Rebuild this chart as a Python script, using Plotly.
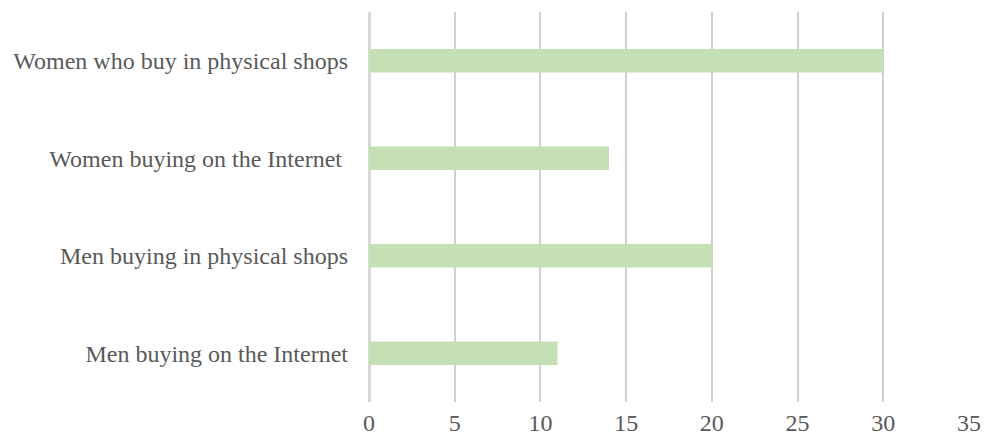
import plotly.graph_objects as go

# Categories (bottom to top) and their values
categories = [
    "Men buying on the Internet",
    "Men buying in physical shops",
    "Women buying on the Internet ",
    "Women who buy in physical shops",
]
values = [11, 20, 14, 30]
tick_values = [0, 5, 10, 15, 20, 25, 30, 35]

fig = go.Figure(
    go.Bar(
        x=values,
        y=categories,
        orientation="h",
        width=0.24,
        marker=dict(color="#C5E0B4", line=dict(width=0)),
        hoverinfo="x+y",
    )
)

font_family = "Liberation Serif, Times New Roman, serif"
font_size = 24

fig.update_layout(
    width=984,
    height=439,
    margin=dict(l=369, r=15, t=12, b=37),
    paper_bgcolor="white",
    plot_bgcolor="white",
    showlegend=False,
    font=dict(family=font_family, size=font_size, color="#595959"),
    xaxis=dict(
        range=[0, 35],
        tickvals=tick_values,
        showgrid=True,
        gridcolor="#D0D0D0",
        gridwidth=2,
        zeroline=True,
        zerolinecolor="#D9D9D9",
        zerolinewidth=3,
        showline=False,
        ticks="",
        ticklabelstandoff=4,
        automargin=False,
        tickfont=dict(family=font_family, size=font_size, color="#595959"),
        fixedrange=True,
    ),
    yaxis=dict(
        categoryorder="array",
        categoryarray=categories,
        showgrid=False,
        zeroline=False,
        showline=False,
        ticks="",
        ticklabelstandoff=20,
        automargin=False,
        tickfont=dict(family=font_family, size=font_size, color="#595959"),
        fixedrange=True,
    ),
)

fig.write_html("out.html")
